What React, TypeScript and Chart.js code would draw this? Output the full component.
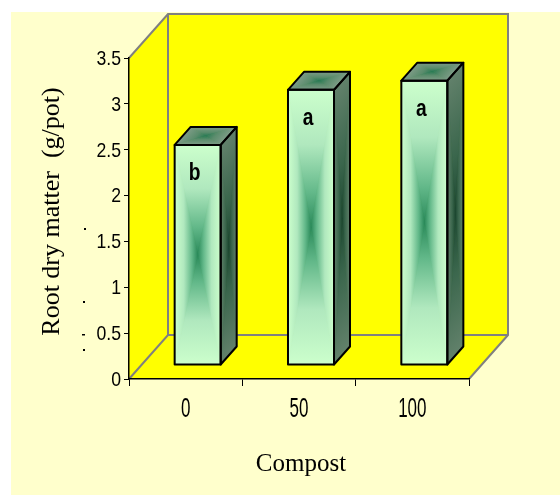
import React, { useEffect, useRef } from 'react';
import { Chart, registerables } from 'chart.js';

Chart.register(...registerables);

// ---- data ----
const categories = ['0', '50', '100'];
const rootDryMatter = [2.4, 3.0, 3.1];
const letters = ['b', 'a', 'a'];
const yTicks = [0, 0.5, 1, 1.5, 2, 2.5, 3, 3.5];
const yMax = 3.5;
const xTitle = 'Compost';
const yTitle = 'Root dry matter  (g/pot)';

type Pt = [number, number];

function pathGradient(ctx: CanvasRenderingContext2D, pts: Pt[], stops: [number, string][]) {
  const n = pts.length;
  let cx = 0, cy = 0;
  pts.forEach(p => { cx += p[0]; cy += p[1]; });
  cx /= n; cy /= n;
  for (let i = 0; i < n; i++) {
    const p = pts[i], q = pts[(i + 1) % n];
    const ex = q[0] - p[0], ey = q[1] - p[1];
    const t = ((cx - p[0]) * ex + (cy - p[1]) * ey) / (ex * ex + ey * ey);
    const fx = p[0] + t * ex, fy = p[1] + t * ey;
    const g = ctx.createLinearGradient(fx, fy, cx, cy);
    stops.forEach(([o, c]) => g.addColorStop(o, c));
    ctx.beginPath();
    ctx.moveTo(p[0], p[1]);
    ctx.lineTo(q[0], q[1]);
    ctx.lineTo(cx, cy);
    ctx.closePath();
    ctx.fillStyle = g;
    ctx.fill();
    ctx.strokeStyle = g;
    ctx.lineWidth = 1;
    ctx.stroke();
  }
}

function poly(ctx: CanvasRenderingContext2D, pts: Pt[]) {
  ctx.beginPath();
  ctx.moveTo(pts[0][0], pts[0][1]);
  for (let i = 1; i < pts.length; i++) ctx.lineTo(pts[i][0], pts[i][1]);
  ctx.closePath();
}

const DX = 39, DY = 44; // wall depth
const BDX = 12, BDY = 14; // bar front offset
const BW = 16, BH = 18; // bar depth

const scene3d = {
  id: 'scene3d',
  beforeDraw(chart: any) {
    const ctx: CanvasRenderingContext2D = chart.ctx;
    const { left, right, top, bottom } = chart.chartArea;
    ctx.save();
    ctx.fillStyle = '#FFFFCC';
    ctx.fillRect(11, 12, 549, 483);
    ctx.fillStyle = '#FFFF00';
    poly(ctx, [[left, top], [left + DX, top - DY], [left + DX, bottom - DY], [left, bottom]]);
    ctx.fill();
    ctx.fillRect(left + DX, top - DY, right - left, bottom - top);
    poly(ctx, [[left, bottom], [left + DX, bottom - DY], [right + DX, bottom - DY], [right, bottom]]);
    ctx.fill();
    ctx.strokeStyle = '#808080';
    ctx.lineWidth = 2;
    ctx.beginPath();
    ctx.moveTo(left, top); ctx.lineTo(left + DX, top - DY); ctx.lineTo(right + DX, top - DY);
    ctx.lineTo(right + DX, bottom - DY); ctx.lineTo(right, bottom);
    ctx.moveTo(left, bottom); ctx.lineTo(left + DX, bottom - DY); ctx.lineTo(right + DX, bottom - DY);
    ctx.moveTo(left + DX, top - DY); ctx.lineTo(left + DX, bottom - DY);
    ctx.stroke();
    ctx.restore();
  },
  afterDatasetsDraw(chart: any) {
    const ctx: CanvasRenderingContext2D = chart.ctx;
    const meta = chart.getDatasetMeta(0);
    ctx.save();
    meta.data.forEach((el: any, i: number) => {
      const { x, y, base, width } = el.getProps(['x', 'y', 'base', 'width'], true);
      const L = x - width / 2 + BDX, R = x + width / 2 + BDX;
      const T = y - BDY, B = base - BDY;
      const front: Pt[] = [[L, T], [R, T], [R, B], [L, B]];
      const side: Pt[] = [[R, T], [R + BW, T - BH], [R + BW, B - BH], [R, B]];
      const topF: Pt[] = [[L, T], [L + BW, T - BH], [R + BW, T - BH], [R, T]];
      pathGradient(ctx, front, [[0, '#CCFFCC'], [0.4, '#B0E8BE'], [0.75, '#62B889'], [1, '#2A8A5A']]);
      pathGradient(ctx, side, [[0, '#62816B'], [0.6, '#3A664C'], [1, '#1C4730']]);
      pathGradient(ctx, topF, [[0, '#7E9C87'], [0.6, '#5A8C6C'], [1, '#2A7B55']]);
      ctx.strokeStyle = '#000';
      ctx.lineWidth = 2;
      ctx.lineJoin = 'round';
      poly(ctx, front); ctx.stroke();
      poly(ctx, side); ctx.stroke();
      poly(ctx, topF); ctx.stroke();
      // significance letter
      ctx.save();
      ctx.translate((L + R) / 2 - 3, T + 35);
      ctx.scale(0.8, 1);
      ctx.fillStyle = '#000';
      ctx.font = 'bold 24px "Liberation Sans", Arial, sans-serif';
      ctx.textAlign = 'center';
      ctx.textBaseline = 'alphabetic';
      ctx.fillText(letters[i], 0, 0);
      ctx.restore();
    });
    ctx.restore();
  },
  afterDraw(chart: any) {
    const ctx: CanvasRenderingContext2D = chart.ctx;
    const { left, right, top, bottom } = chart.chartArea;
    const ys = chart.scales.y, xs = chart.scales.x;
    ctx.save();
    ctx.fillStyle = '#000';
    // y tick labels
    ctx.font = '21px "Liberation Sans", Arial, sans-serif';
    ctx.textAlign = 'right';
    ctx.textBaseline = 'middle';
    ys.ticks.forEach((t: any) => {
      const py = ys.getPixelForValue(t.value);
      ctx.save();
      ctx.translate(ys.right - 8, py + 1);
      ctx.scale(0.84, 1);
      ctx.fillText(String(t.value), 0, 0);
      ctx.restore();
    });
    // x tick labels
    ctx.font = '27px "Liberation Sans", Arial, sans-serif';
    ctx.textAlign = 'center';
    ctx.textBaseline = 'alphabetic';
    categories.forEach((c, i) => {
      const px = xs.getPixelForValue(i);
      ctx.save();
      ctx.translate(px, bottom + 38);
      ctx.scale(0.63, 1);
      ctx.fillText(c, 0, 0);
      ctx.restore();
    });
    // titles
    ctx.font = '25px "Liberation Serif", "Times New Roman", serif';
    ctx.textAlign = 'center';
    ctx.fillText(xTitle, (left + right) / 2 + 2, bottom + 92);
    ctx.save();
    ctx.font = '26px "Liberation Serif", "Times New Roman", serif';
    ctx.translate(59, (top + bottom) / 2 - 7);
    ctx.rotate(-Math.PI / 2);
    ctx.fillText(yTitle, 0, 0);
    ctx.restore();
    // small stray marks
    ctx.fillRect(84, 228, 2, 2);
    ctx.fillRect(83, 301, 2, 2);
    ctx.fillRect(82, 334, 3, 1.5);
    ctx.fillRect(83, 349, 2, 2);
    ctx.restore();
  },
};

export default function App() {
  const ref = useRef<HTMLCanvasElement>(null);
  useEffect(() => {
    const chart = new Chart(ref.current as HTMLCanvasElement, {
      type: 'bar',
      data: {
        labels: categories,
        datasets: [{
          data: rootDryMatter,
          backgroundColor: 'rgba(0,0,0,0)',
          borderWidth: 0,
          categoryPercentage: 1,
          barPercentage: 0.406,
        }],
      },
      options: {
        responsive: false,
        animation: false,
        devicePixelRatio: 1,
        layout: { padding: { left: 0, top: 58, right: 91, bottom: 0 } },
        plugins: { legend: { display: false }, tooltip: { enabled: false }, title: { display: false } },
        scales: {
          x: {
            type: 'category',
            offset: true,
            grid: { display: true, offset: true, drawOnChartArea: false, drawTicks: true, tickLength: 7, color: '#000', lineWidth: 1 },
            border: { display: true, color: '#000', width: 1.5 },
            ticks: { display: false },
            afterFit: (s: any) => { s.height = 116; },
          },
          y: {
            type: 'linear',
            min: 0,
            max: yMax,
            grid: { display: true, drawOnChartArea: false, drawTicks: true, tickLength: 5, color: '#000', lineWidth: 1 },
            border: { display: true, color: '#000', width: 1.5 },
            ticks: { display: false },
            afterBuildTicks: (s: any) => { s.ticks = yTicks.map(v => ({ value: v })); },
            afterFit: (s: any) => { s.width = 129; },
          },
        },
      },
      plugins: [scene3d],
    } as any);
    return () => chart.destroy();
  }, []);
  return (
    <div style={{ position: 'absolute', left: 0, top: 0, width: 560, height: 495 }}>
      <canvas ref={ref} width={560} height={495} style={{ display: 'block' }} />
    </div>
  );
}
